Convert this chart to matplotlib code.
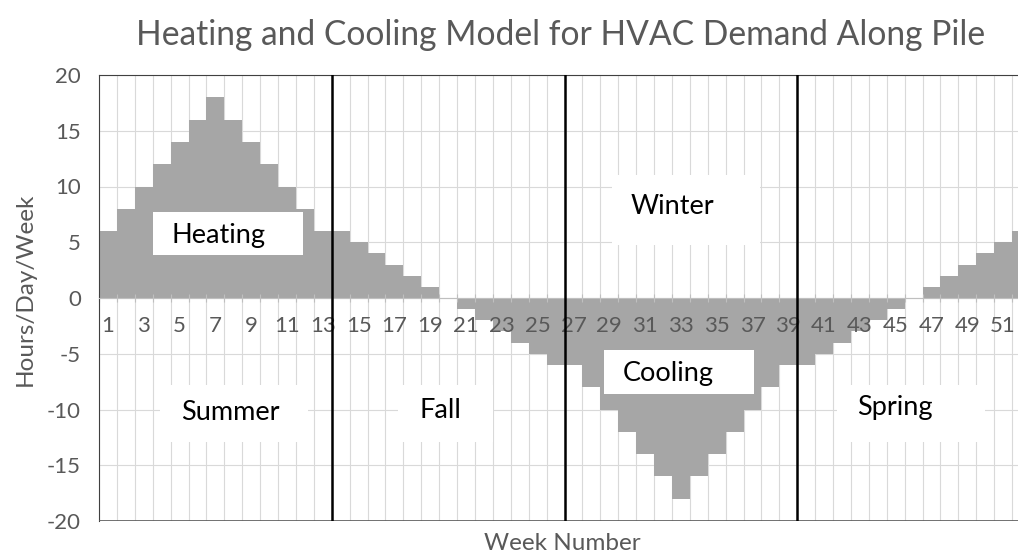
import matplotlib
matplotlib.use("Agg")
import matplotlib.pyplot as plt
from matplotlib.patches import Rectangle

weeks = list(range(1, 53))
hours = [6, 8, 10, 12, 14, 16, 18, 16, 14, 12, 10, 8, 6,
         6, 5, 4, 3, 2, 1, 0, -1, -2, -3, -4, -5, -6,
         -6, -8, -10, -12, -14, -16, -18, -16, -14, -12, -10, -8, -6,
         -6, -5, -4, -3, -2, -1, 0, 1, 2, 3, 4, 5, 6]
season_breaks = [13.5, 26.5, 39.5]
tick_weeks = list(range(1, 53, 2))
y_ticks = [20, 15, 10, 5, 0, -5, -10, -15, -20]

# text boxes in image pixels: label, box (x0, y0, x1, y1), text centre (x, y)
boxes = [
    ("Heating", (153, 212, 303, 255), (218, 236)),
    ("Winter", (612, 175, 760, 245), (672, 207)),
    ("Cooling", (604, 350, 754, 394), (668, 373)),
    ("Summer", (160, 385, 308, 442), (230, 413)),
    ("Fall", (398, 385, 493, 442), (440, 411)),
    ("Spring", (837, 385, 985, 442), (895, 408)),
]

W, H = 1018, 553
plt.rcParams["font.family"] = ["Lato", "DejaVu Sans"]
plt.rcParams["axes.unicode_minus"] = False
gray_txt = "#595959"
grid_c = "#d9d9d9"

fig = plt.figure(figsize=(W / 100, H / 100), dpi=100)
ax = fig.add_axes([99 / W, 1 - 521 / H, 931 / W, (521 - 75) / H])


def fx(px):
    return px / W


def fy(py):
    return 1 - py / H


ax.set_xlim(0.5, 52.5)
ax.set_ylim(-20, 20)

# gridlines drawn by hand so the axis (and its labels) can sit above the bars
for w in range(0, 53):
    ax.axvline(w + 0.5, color=grid_c, lw=0.8, zorder=0)
for yv in y_ticks:
    ax.axhline(yv, color=grid_c, lw=0.8, zorder=0)

ax.bar(weeks, hours, width=1.0, color="#a6a6a6", zorder=1)
for xb in season_breaks:
    ax.plot([xb, xb], [-20, 20], color="black", lw=1.8, zorder=4)

ax.set_xticks([w + 0.5 for w in range(0, 53)])
ax.set_xticks(tick_weeks, minor=True)
ax.set_xticklabels([])
ax.set_xticklabels([str(w) for w in tick_weeks], minor=True)
ax.set_yticks(y_ticks)

ax.spines["bottom"].set_position(("data", 0))
ax.spines["bottom"].set_color("#bfbfbf")
ax.spines["right"].set_visible(False)
ax.spines["top"].set_color("#404040")
ax.spines["left"].set_color("#404040")
ax.axhline(-20, color="#595959", lw=1.2, zorder=3)

ax.tick_params(axis="x", which="major", direction="inout", length=6,
               color="#bfbfbf", labelbottom=False)
ax.tick_params(axis="x", which="minor", length=0, pad=13,
               labelsize=16, labelcolor=gray_txt)
ax.tick_params(axis="y", length=0, pad=13, labelsize=16, labelcolor=gray_txt)

fig.text(fx(562), fy(543), "Week Number", ha="center", va="center",
         fontsize=17.5, color=gray_txt)
fig.text(fx(25), fy(289), "Hours/Day/Week", ha="center", va="center",
         rotation=90, fontsize=17.5, color=gray_txt)
fig.text(fx(561), fy(35), "Heating and Cooling Model for HVAC Demand Along Pile",
         ha="center", va="center", fontsize=24.2, color=gray_txt)

for label, (x0, y0, x1, y1), (tx, ty) in boxes:
    ax.add_patch(Rectangle((fx(x0), fy(y1)), fx(x1) - fx(x0), fy(y0) - fy(y1),
                           transform=fig.transFigure, facecolor="white",
                           edgecolor="none", zorder=6, clip_on=False))
    ax.text(fx(tx), fy(ty), label, transform=fig.transFigure, ha="center",
            va="center", fontsize=19.5, color="black", zorder=7)

fig.savefig("out.png", dpi=100)
